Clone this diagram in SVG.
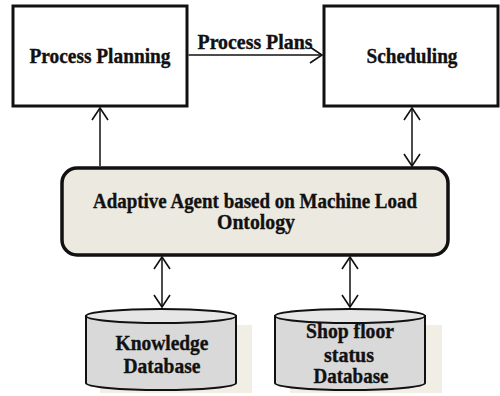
<svg xmlns="http://www.w3.org/2000/svg" width="500" height="396" viewBox="0 0 500 396">
<defs>
<marker id="ah" markerWidth="16" markerHeight="20" refX="13" refY="10" orient="auto-start-reverse" markerUnits="userSpaceOnUse">
<polyline points="1,2 13,10 1,18" fill="none" stroke="#111" stroke-width="1.6"/>
</marker>
</defs>
<style>
.box{fill:#fff;stroke:#111;stroke-width:3}
.agent{fill:#ECE9E0;stroke:#111;stroke-width:3.5}
.cyl{fill:#D9D9D9;stroke:#111;stroke-width:2}
.cyltop{fill:#E6E6E6;stroke:#111;stroke-width:2}
.shadow{fill:#F1EEE6}
.t{font-weight:700;font-size:20px;fill:#111;stroke:#111;stroke-width:0.35;text-anchor:middle}
.c{stroke:#111;stroke-width:1.5;fill:none}
</style>
<rect width="500" height="396" fill="#fff"/>
<g font-family="Liberation Serif, serif">
<g id="process-planning">
<rect class="box" x="13" y="6" width="174" height="100"/>
<text class="t" x="100" y="63" textLength="141" lengthAdjust="spacingAndGlyphs">Process Planning</text>
</g>
<g id="scheduling">
<rect class="box" x="324" y="6" width="174" height="100"/>
<text class="t" x="412" y="63" textLength="91" lengthAdjust="spacingAndGlyphs">Scheduling</text>
</g>
<g id="agent">
<rect class="agent" x="62" y="168" width="386" height="87" rx="15" ry="15"/>
<text class="t" x="255" y="208" textLength="324" lengthAdjust="spacingAndGlyphs">Adaptive Agent based on Machine Load</text>
<text class="t" x="256" y="229" textLength="78" lengthAdjust="spacingAndGlyphs">Ontology</text>
</g>
<g id="knowledge-db">
<rect class="shadow" x="100" y="325" width="152" height="68"/>
<path class="cyl" d="M86,316 L86,383 A75,7 0 0 0 236,383 L236,316 Z"/>
<ellipse class="cyltop" cx="161" cy="316" rx="75" ry="7"/>
<text class="t" x="162" y="350" textLength="93" lengthAdjust="spacingAndGlyphs">Knowledge</text>
<text class="t" x="162" y="373" textLength="77" lengthAdjust="spacingAndGlyphs">Database</text>
</g>
<g id="shopfloor-db">
<rect class="shadow" x="290" y="325" width="152" height="68"/>
<path class="cyl" d="M275,316 L275,383 A75,7 0 0 0 425,383 L425,316 Z"/>
<ellipse class="cyltop" cx="350" cy="316" rx="75" ry="7"/>
<text class="t" x="350" y="338" textLength="88" lengthAdjust="spacingAndGlyphs">Shop floor</text>
<text class="t" x="349" y="362" textLength="50" lengthAdjust="spacingAndGlyphs">status</text>
<text class="t" x="351" y="383" textLength="75" lengthAdjust="spacingAndGlyphs">Database</text>
</g>
<g id="connectors">
<line class="c" x1="188.5" y1="55" x2="322" y2="55" marker-end="url(#ah)"/>
<text class="t" x="255" y="49" textLength="115" lengthAdjust="spacingAndGlyphs">Process Plans</text>
<line class="c" x1="100" y1="166" x2="100" y2="108" marker-end="url(#ah)"/>
<line class="c" x1="412" y1="108" x2="412" y2="166" marker-start="url(#ah)" marker-end="url(#ah)"/>
<line class="c" x1="162" y1="257" x2="162" y2="307" marker-start="url(#ah)" marker-end="url(#ah)"/>
<line class="c" x1="350" y1="257" x2="350" y2="307" marker-start="url(#ah)" marker-end="url(#ah)"/>
</g>
</g>
</svg>
